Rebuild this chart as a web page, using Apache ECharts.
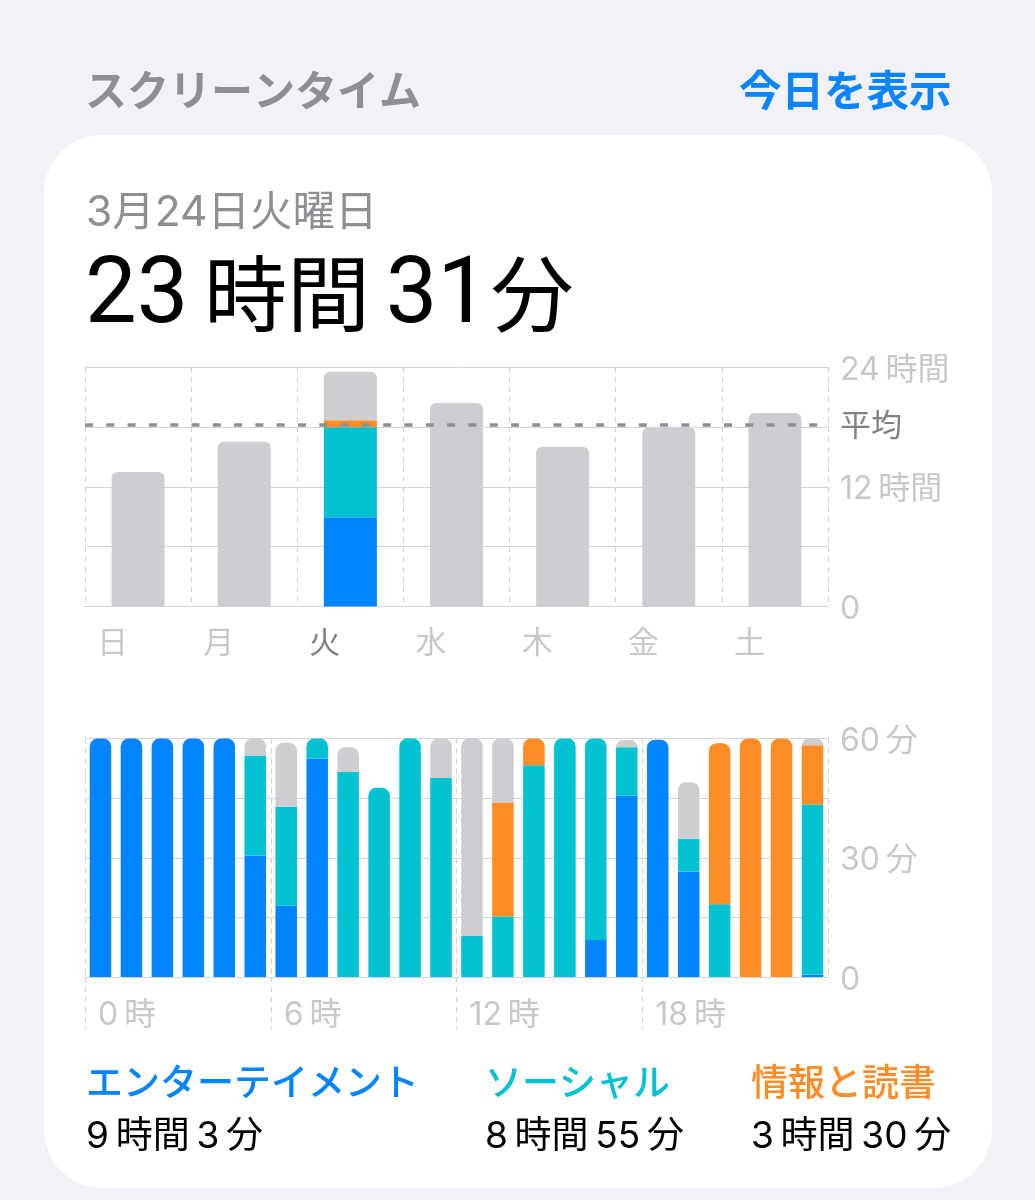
<!DOCTYPE html>
<html lang="ja">
<head>
<meta charset="utf-8">
<style>
  html, body { margin: 0; background: #f1f1f7; }
  #chart { width: 1035px; height: 1200px; }
</style>
<script src="https://cdn.jsdelivr.net/npm/echarts@6/dist/echarts.min.js"></script>
</head>
<body>
<div id="chart"></div>
<script>
const FONT = 'Inter, "Noto Sans CJK JP", sans-serif'

const categoryNames = ['エンターテイメント', 'ソーシャル', '情報と読書', 'その他']
const categoryTotals = ['9\u2009時間\u20093\u2009分', '8\u2009時間\u200955\u2009分', '3\u2009時間\u200930\u2009分']
const categoryColors = ['#0084ff', '#00c2d1', '#ff8c26', '#cdcdd2']

const days = ['日', '月', '火', '水', '木', '金', '土']
const selectedDay = '火'
const averageHours = 18.2
const dayEntertainment = [0, 0, 8.95, 0, 0, 0, 0]
const daySocial = [0, 0, 9.0, 0, 0, 0, 0]
const dayReading = [0, 0, 0.72, 0, 0, 0, 0]
const dayOther = [13.48, 16.5, 4.85, 20.4, 16, 17.95, 19.4]
const dayTickLabels = ['0', '', '12\u2009時間', '', '24\u2009時間']

const hours = [0, 1, 2, 3, 4, 5, 6, 7, 8, 9, 10, 11, 12, 13, 14, 15, 16, 17, 18, 19, 20, 21, 22, 23]
const hourEntertainment = [60, 60, 60, 60, 60, 30.5, 17.9, 55, 0, 0, 0, 0, 0, 0, 0, 0, 9.3, 45.6, 59.7, 26.5, 0, 0, 0, 0.6]
const hourSocial = [0, 0, 0, 0, 0, 25.1, 24.9, 5, 51.6, 47.6, 60, 50.1, 10.4, 15.2, 53.3, 60, 50.7, 12.2, 0, 8.2, 18.3, 0, 0, 42.8]
const hourReading = [0, 0, 0, 0, 0, 0, 0, 0, 0, 0, 0, 0, 0, 28.7, 6.7, 0, 0, 0, 0, 0, 40.5, 60, 60, 14.9]
const hourOther = [0, 0, 0, 0, 0, 4.4, 16.1, 0, 6.2, 0, 0, 9.9, 49.6, 16.1, 0, 0, 0, 1.8, 0, 14.3, 0, 0, 0, 1.7]
const hourTickLabels = ['0', '', '30\u2009分', '', '60\u2009分']

const GRID_LINE = '#d4d4d8'
const AXIS_TEXT = '#c7c7cc'

// only the top segment of a stack gets rounded corners
const stackSeries = (stacks, axisIndex, radius, barWidth) => stacks.map((values, i) => ({
  name: categoryNames[i],
  type: 'bar',
  stack: `stack${axisIndex}`,
  xAxisIndex: axisIndex === 0 ? 0 : 1,
  yAxisIndex: axisIndex,
  barWidth,
  itemStyle: { color: categoryColors[i] },
  data: values.map((value, col) => {
    const isTop = value > 0 && stacks.slice(i + 1).every((upper) => !upper[col])
    return {
      value,
      itemStyle: { borderRadius: isTop ? [radius, radius, 0, 0] : 0 }
    }
  })
}))

const daySeries = stackSeries([dayEntertainment, daySocial, dayReading, dayOther], 0, 6, 53)
daySeries[0].markLine = {
  silent: true,
  symbol: 'none',
  animation: false,
  lineStyle: { type: [8, 13.3], width: 3.5, color: '#8e8e93' },
  label: {
    position: 'end',
    distance: 12,
    formatter: '{v|平均}',
    rich: {
      v: { color: '#808085', fontSize: 31, fontFamily: FONT, padding: [4, 0, 0, 0] }
    }
  },
  data: [{ yAxis: averageHours }]
}
const hourSeries = stackSeries([hourEntertainment, hourSocial, hourReading, hourOther], 1, 8, 21.5)

const dashedLine = { type: [5, 5], color: '#d0d0d4', width: 1 }

const makeYAxis = (gridIndex, max, interval, labels) => ({
  type: 'value',
  gridIndex,
  position: 'right',
  min: 0,
  max,
  interval,
  axisLine: { show: false },
  axisTick: { show: false },
  splitLine: { lineStyle: { color: GRID_LINE, width: 1 } },
  axisLabel: {
    margin: 12,
    formatter: (value) => {
      const label = labels[value / interval]
      return label ? `{v|${label}}` : ''
    },
    // token padding nudges the text down onto its gridline
    rich: {
      v: { color: AXIS_TEXT, fontSize: 32, fontFamily: FONT, padding: [6, 0, 0, 0] }
    }
  }
})

const headerText = (text, x, y, fontSize, fill, fontWeight, extra) => ({
  type: 'text',
  x,
  y,
  z: 1,
  style: {
    text,
    fill,
    fontSize,
    fontWeight,
    fontFamily: FONT,
    verticalAlign: 'middle',
    ...extra
  }
})

const legendX = [86, 485, 751]
const legendTexts = categoryTotals.flatMap((total, i) => [
  headerText(categoryNames[i], legendX[i], 1085, 37, categoryColors[i], 500),
  headerText(total, legendX[i], 1137, 37, '#000000', 400)
])

const chart = echarts.init(document.getElementById('chart'))
chart.setOption({
  animation: false,
  backgroundColor: '#f1f1f7',
  graphic: [
    {
      type: 'rect',
      z: -1,
      shape: { x: 44, y: 135, width: 948, height: 1053, r: 58 },
      style: { fill: '#ffffff' }
    },
    headerText('スクリーンタイム', 85, 93, 42, '#8e8e93', 700),
    headerText('今日を表示', 739, 93, 42.5, '#0a84ff', 700),
    headerText('3月24日火曜日', 86, 213, 42.5, '#8e8e93', 400),
    headerText('{d|23}\u2009{k|時間}\u2009{n|31}{k|分}', 85, 293, 86, '#000000', 400, {
      rich: {
        d: { fontSize: 92, fontFamily: 'Roboto', fill: '#000000', padding: [12, 0, 0, 0] },
        n: { fontSize: 92, fontFamily: 'Roboto', fill: '#000000', padding: [12, 0, 0, 0], width: 105 },
        k: { fontSize: 83, fontFamily: '"Noto Sans CJK JP"', fill: '#000000' }
      }
    }),
    ...legendTexts
  ],
  grid: [
    { left: 85, right: 207, top: 367, height: 239.5 },
    { left: 85, right: 207, top: 738.5, height: 238.5 }
  ],
  xAxis: [
    {
      type: 'category',
      gridIndex: 0,
      data: days,
      axisLine: { lineStyle: { color: GRID_LINE } },
      axisTick: { length: 53, lineStyle: dashedLine },
      splitLine: { show: true, lineStyle: dashedLine },
      axisLabel: {
        margin: 22,
        align: 'right',
        padding: [0, 10, 0, 0],
        fontSize: 31,
        fontFamily: FONT,
        color: (day) => (day === selectedDay ? '#808085' : AXIS_TEXT)
      }
    },
    {
      type: 'category',
      gridIndex: 1,
      data: hours,
      axisLine: { show: false },
      axisTick: { show: false },
      axisLabel: { show: false }
    },
    // hour labels and separators sit on the 6 hour boundaries, not on band centres
    {
      type: 'value',
      gridIndex: 1,
      position: 'bottom',
      min: 0,
      max: 24,
      interval: 6,
      axisLine: { show: true, lineStyle: { color: GRID_LINE } },
      axisTick: { show: true, length: 53, lineStyle: dashedLine },
      splitLine: { show: true, lineStyle: dashedLine },
      axisLabel: {
        margin: 22,
        align: 'left',
        padding: [0, 0, 0, 13],
        showMaxLabel: false,
        fontSize: 32,
        fontFamily: FONT,
        color: AXIS_TEXT,
        formatter: (value) => `${value}\u2009時`
      }
    }
  ],
  yAxis: [
    makeYAxis(0, 24, 6, dayTickLabels),
    makeYAxis(1, 60, 15, hourTickLabels)
  ],
  series: [...daySeries, ...hourSeries]
})
</script>
</body>
</html>
